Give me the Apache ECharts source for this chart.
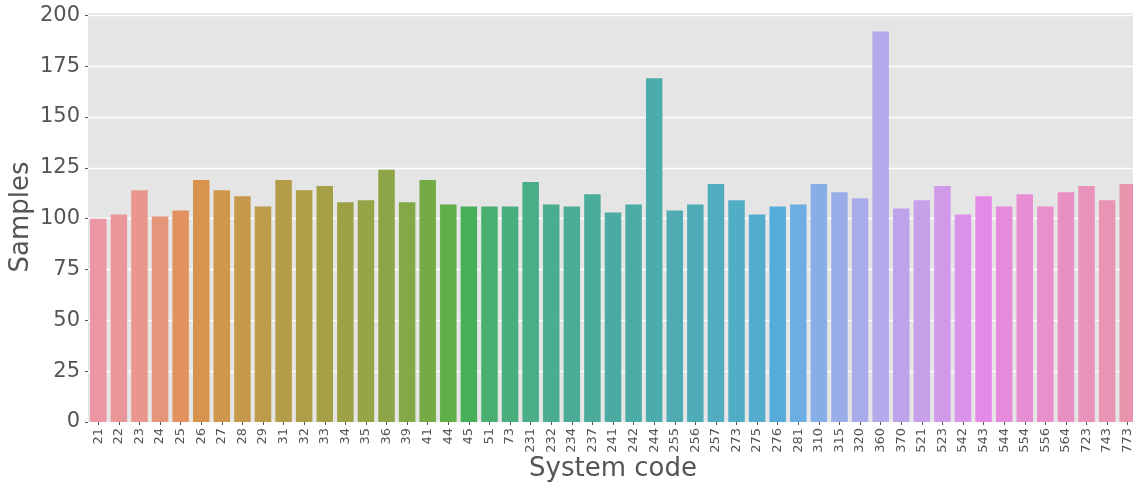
<!DOCTYPE html>
<html>
<head>
<meta charset="utf-8">
<script src="https://cdn.jsdelivr.net/npm/echarts@6/dist/echarts.min.js"></script>
<style>html,body{margin:0;padding:0;background:#fff;}#c{width:1133px;height:483px;}</style>
</head>
<body>
<div id="c"></div>
<script>
const categories = ["21","22","23","24","25","26","27","28","29","31","32","33","34","35","36","39","41","44","45","51","73","231","232","234","237","241","242","244","255","256","257","273","275","276","281","310","315","320","360","370","521","523","542","543","544","554","556","564","723","743","773"];
const samples = [100,102,114,101,104,119,114,111,106,119,114,116,108,109,124,108,119,107,106,106,106,118,107,106,112,103,107,169,104,107,117,109,102,106,107,117,113,110,192,105,109,116,102,111,106,112,106,113,116,109,117];
const yTicks = [0,25,50,75,100,125,150,175,200];

// seaborn-style husl palette (h=.01, s=.9, l=.7) desaturated by 0.75
function huslToRgb(H, S, L) {
  const m = [[3.2406,-1.5372,-0.4986],[-0.9689,1.8758,0.0415],[0.0557,-0.2040,1.0570]];
  const refU = 0.19784, refV = 0.46834, kappa = 903.2963, eps = 0.0088564;
  const hrad = H * Math.PI / 180, sinH = Math.sin(hrad), cosH = Math.cos(hrad);
  const sub1 = Math.pow(L + 16, 3) / 1560896;
  const sub2 = sub1 > eps ? sub1 : L / kappa;
  let mx = Infinity;
  for (const [m1, m2, m3] of m) {
    const top = (0.99915*m1 + 1.05122*m2 + 1.14460*m3) * sub2;
    const rb = 0.86330*m3 - 0.17266*m2;
    const lb = 0.12949*m3 - 0.38848*m1;
    const bottom = (rb*sinH + lb*cosH) * sub2;
    for (const t of [0, 1]) {
      const C = L * (top - 1.05122*t) / (bottom + 0.17266*sinH*t);
      if (C > 0 && C < mx) mx = C;
    }
  }
  const C = mx / 100 * S;
  const U = Math.cos(hrad) * C, V = Math.sin(hrad) * C;
  const varY = L > 8 ? Math.pow((L + 16) / 116, 3) : L / kappa;
  const varU = U / (13 * L) + refU, varV = V / (13 * L) + refV;
  const Y = varY;
  const X = -(9 * Y * varU) / ((varU - 4) * varV - varU * varV);
  const Z = (9 * Y - 15 * varV * Y - varV * X) / (3 * varV);
  return m.map(r => {
    let c = r[0]*X + r[1]*Y + r[2]*Z;
    c = c <= 0.0031308 ? 12.92 * c : 1.055 * Math.pow(c, 1/2.4) - 0.055;
    return Math.min(1, Math.max(0, c));
  });
}
function desaturate(rgb, prop) {
  const [r, g, b] = rgb;
  const mx = Math.max(r, g, b), mn = Math.min(r, g, b);
  const l = (mx + mn) / 2;
  if (mx === mn) return rgb;
  let s = l <= 0.5 ? (mx - mn) / (mx + mn) : (mx - mn) / (2 - mx - mn);
  const rc = (mx - r) / (mx - mn), gc = (mx - g) / (mx - mn), bc = (mx - b) / (mx - mn);
  let h = r === mx ? bc - gc : (g === mx ? 2 + rc - bc : 4 + gc - rc);
  h = ((h / 6) % 1 + 1) % 1;
  s *= prop;
  const m2 = l <= 0.5 ? l * (1 + s) : l + s - l * s;
  const m1 = 2 * l - m2;
  const v = (hh) => {
    hh = ((hh % 1) + 1) % 1;
    if (hh < 1/6) return m1 + (m2 - m1) * hh * 6;
    if (hh < 0.5) return m2;
    if (hh < 2/3) return m1 + (m2 - m1) * (2/3 - hh) * 6;
    return m1;
  };
  return [v(h + 1/3), v(h), v(h - 1/3)];
}
const n = categories.length;
const colors = categories.map((_, i) => {
  const hue = ((i / n) + 0.01) % 1 * 359;
  const rgb = desaturate(huslToRgb(hue, 0.9 * 99, 0.7 * 99), 0.75);
  return 'rgb(' + rgb.map(c => Math.round(c * 255)).join(',') + ')';
});

const chart = echarts.init(document.getElementById('c'), null, {renderer: 'canvas'});
chart.setOption({
  backgroundColor: '#ffffff',
  animation: false,
  grid: {left: 88, right: -5, top: 12, bottom: 61, show: true, backgroundColor: '#e5e5e5', borderWidth: 0,
    outerBoundsMode: 'none', containLabel: false},
  xAxis: {
    type: 'category',
    data: categories,
    name: 'System code',
    nameLocation: 'middle',
    nameGap: 34,
    nameMoveOverlap: false,
    nameTextStyle: {fontFamily: 'DejaVu Sans', fontSize: 26, color: '#555555'},
    axisLine: {show: false},
    axisTick: {show: true, alignWithLabel: true, length: 3, lineStyle: {color: '#555555', width: 1}},
    axisLabel: {rotate: 90, fontFamily: 'DejaVu Sans', fontSize: 13, color: '#555555', margin: 6, interval: 0},
    splitLine: {show: false}
  },
  yAxis: {
    type: 'value',
    min: 0,
    max: 201.6,
    interval: 25,
    name: 'Samples',
    nameLocation: 'middle',
    nameGap: 54,
    nameMoveOverlap: false,
    nameTextStyle: {fontFamily: 'DejaVu Sans', fontSize: 26, color: '#555555'},
    axisLine: {show: false},
    axisTick: {show: true, length: 3, lineStyle: {color: '#555555', width: 1}},
    axisLabel: {fontFamily: 'DejaVu Sans', fontSize: 21, color: '#555555', margin: 8, showMaxLabel: false,
      formatter: v => (yTicks.indexOf(v) >= 0 ? String(v) : '')},
    splitLine: {show: true, lineStyle: {color: '#ffffff', width: 1.3}}
  },
  series: [{
    type: 'bar',
    data: samples.map((v, i) => ({value: v, itemStyle: {color: colors[i]}})),
    barWidth: '80%'
  }]
});
</script>
</body>
</html>
